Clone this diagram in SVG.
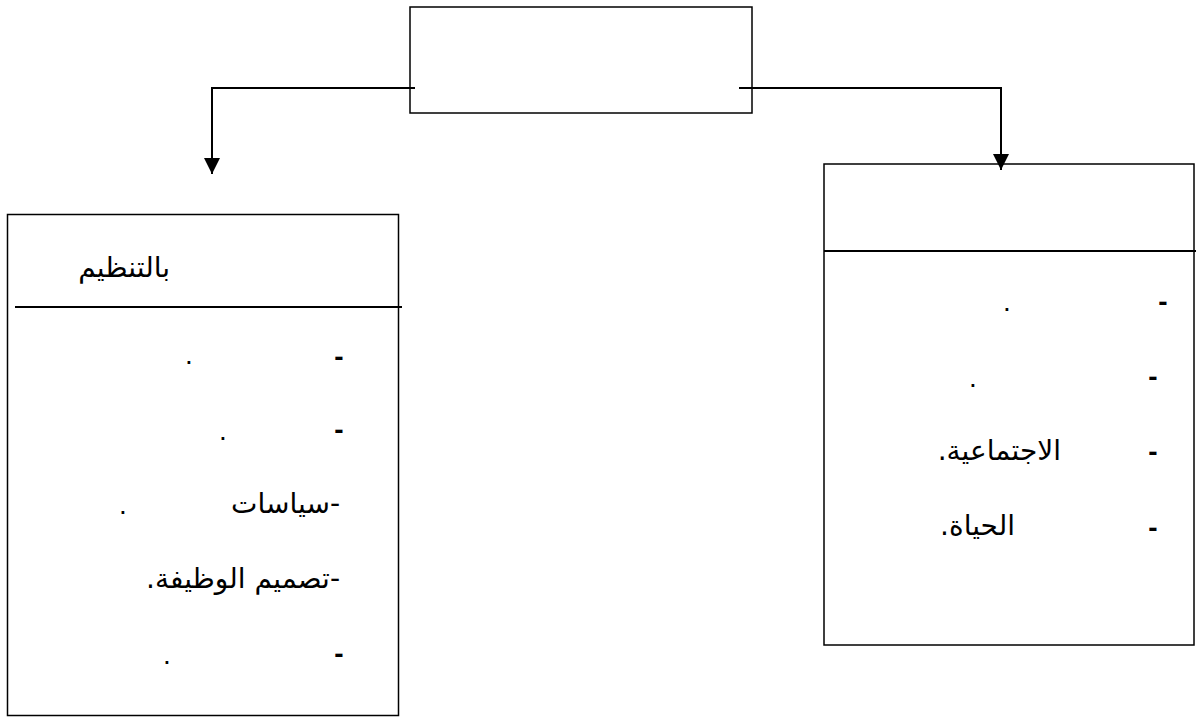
<svg xmlns="http://www.w3.org/2000/svg" width="1203" height="718" viewBox="0 0 1203 718">
<style>
.box{fill:#fff;stroke:#000;stroke-width:1.5}
.sep{stroke:#000;stroke-width:2}
.con{fill:none;stroke:#000;stroke-width:2}
.t{font-family:"Liberation Sans","DejaVu Sans",sans-serif;font-size:28px;fill:#000}
.d{font-weight:bold}
.ar{font-family:"DejaVu Sans","Liberation Sans",sans-serif;font-size:28px;font-weight:normal;direction:rtl;unicode-bidi:embed}
</style>
<defs>
<marker id="ah" viewBox="0 0 10 10" refX="10" refY="5" markerWidth="16" markerHeight="16" markerUnits="userSpaceOnUse" orient="auto">
<path d="M0,0 L10,5 L0,10 Z" fill="#000"/>
</marker>
</defs>
<rect width="1203" height="718" fill="#fff"/>
<g id="top-node">
<rect class="box" x="410" y="7" width="342" height="106"/>
</g>
<g id="left-node">
<rect class="box" x="7.5" y="214.5" width="391" height="501"/>
<line class="sep" x1="15" y1="307" x2="402" y2="307"/>
<text class="t ar" x="170" y="277" text-anchor="start">بالتنظيم</text>
<text class="t d" x="339" y="366" text-anchor="middle">-</text>
<text class="t" x="189" y="364" text-anchor="middle">.</text>
<text class="t d" x="339" y="439" text-anchor="middle">-</text>
<text class="t" x="223" y="440" text-anchor="middle">.</text>
<text class="t ar" x="340" y="513" text-anchor="start">-سياسات</text>
<text class="t" x="123" y="514" text-anchor="middle">.</text>
<text class="t ar" x="340" y="588" text-anchor="start">-تصميم الوظيفة.</text>
<text class="t d" x="339" y="663" text-anchor="middle">-</text>
<text class="t" x="167" y="664" text-anchor="middle">.</text>
</g>
<g id="right-node">
<rect class="box" x="824" y="164" width="370" height="481"/>
<line class="sep" x1="824" y1="251" x2="1196" y2="251"/>
<text class="t d" x="1163" y="311" text-anchor="middle">-</text>
<text class="t" x="1007" y="311" text-anchor="middle">.</text>
<text class="t d" x="1153" y="386" text-anchor="middle">-</text>
<text class="t" x="973" y="387" text-anchor="middle">.</text>
<text class="t d" x="1153" y="461" text-anchor="middle">-</text>
<text class="t ar" x="1061" y="460" text-anchor="start">الاجتماعية.</text>
<text class="t d" x="1153" y="537" text-anchor="middle">-</text>
<text class="t ar" x="1015" y="535" text-anchor="start">الحياة.</text>
</g>
<g id="connectors">
<path class="con" d="M415,88 H212 V174" marker-end="url(#ah)"/>
<path class="con" d="M739,88 H1001 V170" marker-end="url(#ah)"/>
</g>
</svg>
